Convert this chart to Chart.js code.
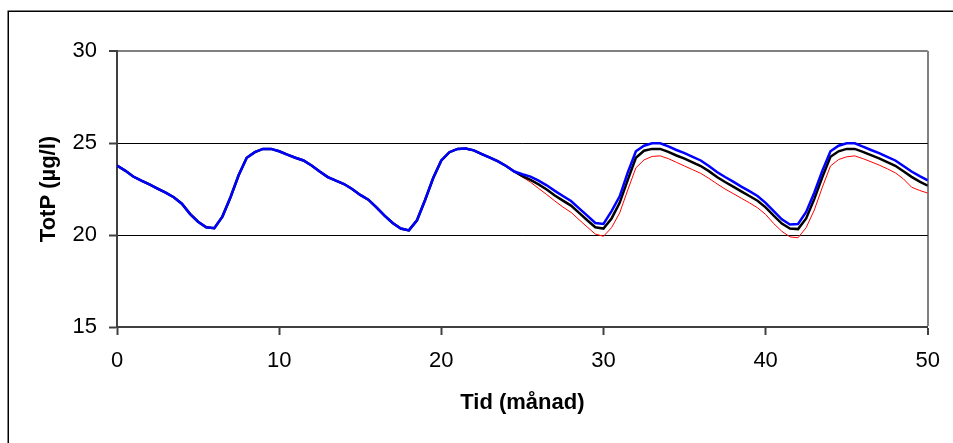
<!DOCTYPE html>
<html>
<head>
<meta charset="utf-8">
<script src="https://cdn.jsdelivr.net/npm/chart.js@4.4.1/dist/chart.umd.min.js"></script>
<style>
  html, body { margin: 0; padding: 0; background: #fff; }
  canvas { display: block; }
</style>
</head>
<body>
<canvas id="c" width="953" height="443"></canvas>
<script>
// ---- Data ----
const months = [
  0,0.5,1,1.5,2,2.5,3,3.5,4,4.5,5,5.5,6,6.5,7,7.5,8,8.5,9,9.5,
  10,10.5,11,11.5,12,12.5,13,13.5,14,14.5,15,15.5,16,16.5,17,17.5,18,18.5,19,19.5,
  20,20.5,21,21.5,22,22.5,23,23.5,24,24.5,25,25.5,26,26.5,27,27.5,28,28.5,29,29.5,
  30,30.5,31,31.5,32,32.5,33,33.5,34,34.5,35,35.5,36,36.5,37,37.5,38,38.5,39,39.5,
  40,40.5,41,41.5,42,42.5,43,43.5,44,44.5,45,45.5,46,46.5,47,47.5,48,48.5,49,49.5,50
];
// common part (months 0 - 24.5)
const common = [
  23.77,23.5,23.18,22.95,22.75,22.52,22.3,22.05,21.7,21.15,
  20.72,20.42,20.37,21.0,22.05,23.25,24.2,24.5,24.68,24.68,
  24.55,24.37,24.2,24.05,23.78,23.45,23.15,22.95,22.77,22.5,
  22.18,21.92,21.5,21.05,20.65,20.35,20.25,20.8,21.9,23.1,
  24.05,24.5,24.68,24.7,24.6,24.4,24.2,24.0,23.75,23.45
];
// months 25 - 50
const blueTail = [
  23.3,23.17,22.95,22.7,22.4,22.12,21.85,21.45,21.05,20.65,
  20.6,21.3,22.1,23.4,24.55,24.85,24.98,24.98,24.82,24.62,
  24.45,24.25,24.05,23.75,23.42,23.15,22.9,22.63,22.38,22.12,
  21.75,21.3,20.85,20.57,20.6,21.25,22.3,23.5,24.55,24.85,
  24.98,24.98,24.8,24.62,24.45,24.25,24.05,23.75,23.45,23.2,22.97
];
const blackTail = [
  23.2,23.0,22.75,22.47,22.15,21.87,21.6,21.2,20.8,20.42,
  20.35,20.9,21.75,23.0,24.2,24.58,24.68,24.68,24.52,24.32,
  24.15,23.95,23.75,23.47,23.15,22.88,22.63,22.37,22.12,21.86,
  21.5,21.05,20.62,20.35,20.32,20.9,21.95,23.15,24.25,24.55,
  24.68,24.68,24.52,24.34,24.16,23.96,23.76,23.46,23.16,22.9,22.68
];
const redTail = [
  23.15,22.87,22.53,22.2,21.85,21.52,21.23,20.83,20.43,20.05,
  19.93,20.4,21.2,22.45,23.65,24.08,24.27,24.3,24.15,23.95,
  23.75,23.55,23.35,23.08,22.78,22.5,22.25,22.0,21.75,21.48,
  21.12,20.62,20.2,19.9,19.85,20.4,21.35,22.6,23.75,24.1,
  24.25,24.3,24.15,23.98,23.8,23.6,23.38,23.05,22.6,22.42,22.28
];
const xTicks = [0, 10, 20, 30, 40, 50];
const yTicks = [15, 20, 25, 30];
const xTitle = 'Tid (månad)';
const yTitle = 'TotP (µg/l)';

function pts(vals) { return vals.map((v, i) => ({ x: months[i], y: v })); }

const framePlugin = {
  id: 'frame',
  beforeDraw(chart) {
    const ctx = chart.ctx;
    ctx.save();
    ctx.fillStyle = '#fff';
    ctx.fillRect(0, 0, chart.width, chart.height);
    ctx.strokeStyle = '#000';
    ctx.lineWidth = 1.5;
    ctx.strokeRect(8.25, 11.25, 1200, 1200);
    ctx.restore();
  }
};

const FONT = 'Liberation Sans, Arial, sans-serif';

new Chart(document.getElementById('c'), {
  type: 'line',
  data: {
    datasets: [
      { data: pts(common.concat(blueTail)), borderColor: '#0000FF', borderWidth: 2.5, pointRadius: 0, tension: 0 },
      { data: pts(common.concat(blackTail)), borderColor: '#000000', borderWidth: 2.5, pointRadius: 0, tension: 0 },
      { data: pts(common.concat(redTail)), borderColor: '#FF0000', borderWidth: 1, pointRadius: 0, tension: 0 }
    ]
  },
  options: {
    responsive: false,
    devicePixelRatio: 1,
    animation: false,
    layout: { padding: { left: 0, top: 51, right: 23, bottom: 0 } },
    plugins: { legend: { display: false }, tooltip: { enabled: false } },
    scales: {
      x: {
        type: 'linear', min: 0, max: 50,
        afterBuildTicks: s => { s.ticks = xTicks.map(v => ({ value: v })); },
        afterFit: s => { s.height = 116; },
        ticks: { color: '#000', font: { family: FONT, size: 22 }, padding: 13, maxRotation: 0 },
        grid: {
          drawOnChartArea: true,
          color: c => (c.tick && c.tick.value === 50) ? '#808080' : 'rgba(0,0,0,0)',
          lineWidth: c => (c.tick && c.tick.value === 50) ? 2 : 1,
          tickColor: '#404040', tickLength: 8, tickWidth: 2
        },
        border: { display: true, color: '#404040', width: 2 },
        title: { display: true, text: xTitle, color: '#000', font: { family: FONT, size: 22, weight: 'bold' }, padding: { top: 0, bottom: 27 } }
      },
      y: {
        type: 'linear', min: 15, max: 30,
        afterBuildTicks: s => { s.ticks = yTicks.map(v => ({ value: v })); },
        afterFit: s => { s.width = 117; },
        ticks: { color: '#000', font: { family: FONT, size: 22 }, padding: 12 },
        grid: {
          color: c => {
            const v = c.tick && c.tick.value;
            if (v === 30) return '#808080';
            if (v === 15) return 'rgba(0,0,0,0)';
            return '#000';
          },
          lineWidth: c => (c.tick && c.tick.value === 30) ? 2 : 1,
          tickColor: '#404040', tickLength: 8, tickWidth: 2
        },
        border: { display: true, color: '#404040', width: 2 },
        title: { display: true, text: yTitle, color: '#000', font: { family: FONT, size: 22, weight: 'bold' }, padding: { top: 36, bottom: 0 } }
      }
    }
  },
  plugins: [framePlugin]
});
</script>
</body>
</html>
